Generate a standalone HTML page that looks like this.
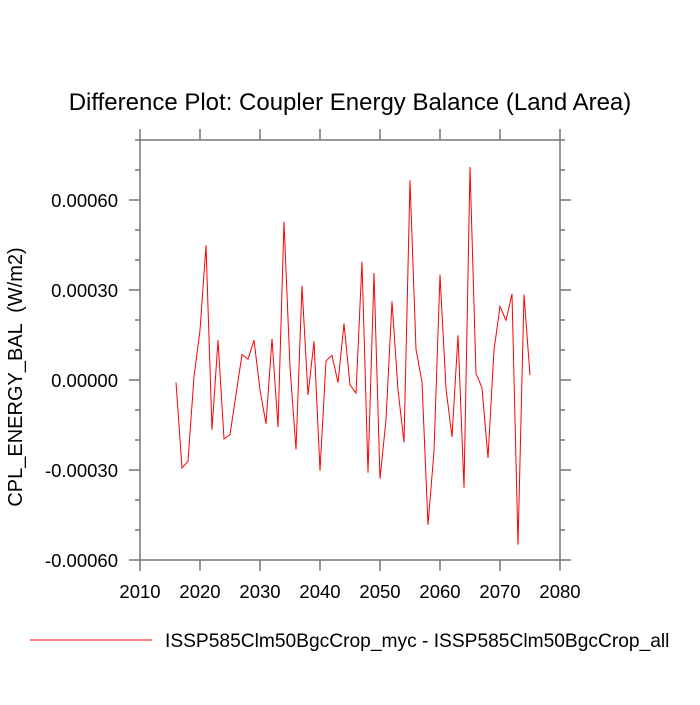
<!DOCTYPE html>
<html><head><meta charset="utf-8"><style>
body{margin:0;background:#fff}
svg text{font-family:"Liberation Sans",sans-serif;fill:#000}
</style></head><body>
<svg id="chart" width="700" height="700" xmlns="http://www.w3.org/2000/svg">
<text x="350" y="110" font-size="24" text-anchor="middle">Difference Plot: Coupler Energy Balance (Land Area)</text>
<text transform="translate(22,377) rotate(-90)" font-size="20" text-anchor="middle" style="white-space:pre">CPL_ENERGY_BAL  (W/m2)</text>
<g id="axes"></g>
<g id="series"></g>
<line x1="30" y1="640" x2="152" y2="640" stroke="#f00" stroke-width="1"/>
<text x="165" y="647" font-size="19.2">ISSP585Clm50BgcCrop_myc - ISSP585Clm50BgcCrop_all</text>
</svg>
<script>
const years=[2016,2017,2018,2019,2020,2021,2022,2023,2024,2025,2026,2027,2028,2029,2030,2031,2032,2033,2034,2035,2036,2037,2038,2039,2040,2041,2042,2043,2044,2045,2046,2047,2048,2049,2050,2051,2052,2053,2054,2055,2056,2057,2058,2059,2060,2061,2062,2063,2064,2065,2066,2067,2068,2069,2070,2071,2072,2073,2074,2075];
const values=[-0.000008,-0.000293,-0.000271,0.000011,0.000166,0.000449,-0.000166,0.000133,-0.000196,-0.000182,-0.000048,0.000085,0.000069,0.000133,-0.000033,-0.000146,0.000137,-0.000157,0.000528,0.000044,-0.000232,0.000314,-0.00005,0.000129,-0.000302,0.000064,0.000082,-0.000009,0.000188,-0.000016,-0.000044,0.000394,-0.000309,0.000357,-0.000329,-0.000133,0.000262,-0.000033,-0.000208,0.000666,0.000102,-0.000006,-0.000483,-0.000238,0.000351,-0.000028,-0.00019,0.000149,-0.000359,0.00071,0.000022,-0.000026,-0.00026,0.0001,0.000245,0.000199,0.000287,-0.000549,0.000285,0.000016];
const xTicks=[2010,2020,2030,2040,2050,2060,2070,2080];
const yTicks=[-0.0006,-0.0003,0,0.0003,0.0006];
const yTickLabels=["-0.00060","-0.00030","0.00000","0.00030","0.00060"];
const L=140,R=560,T=140,B=560,X0=2010,X1=2080,Y0=-0.0006,Y1=0.0008;
const xs=v=>L+(v-X0)/(X1-X0)*(R-L);
const ys=v=>B-(v-Y0)/(Y1-Y0)*(B-T);
const NS="http://www.w3.org/2000/svg";
const ax=document.getElementById('axes');
function mk(t,a,p){const e=document.createElementNS(NS,t);for(const k in a)e.setAttribute(k,a[k]);(p||ax).appendChild(e);return e;}
const frame=mk('rect',{x:L,y:T,width:R-L,height:B-T,fill:'none',stroke:'#777','stroke-width':1.5});


xTicks.forEach(v=>{const x=xs(v);
 const t1=mk('line',{x1:x,y1:B,x2:x,y2:B+11,stroke:'#777','stroke-width':1.5});
 
 
 const t2=mk('line',{x1:x,y1:T,x2:x,y2:T-11,stroke:'#777','stroke-width':1.5});
 
 
 const lb=mk('text',{x:x,y:B+38,'font-size':18.5,'text-anchor':'middle'});lb.textContent=v;
 
 
});
for(let i=-6;i<=8;i++){const v=i*0.0001,y=ys(v),major=(i%3===0);const len=major?11:5;
 [[L,L-len],[R,R+len]].forEach(p=>{const t=mk('line',{x1:p[0],y1:y,x2:p[1],y2:y,stroke:'#777','stroke-width':1.5});
 
 });
}
yTicks.forEach((v,i)=>{const lb=mk('text',{x:L-22,y:ys(v)+7,'font-size':18.5,'text-anchor':'end'});lb.textContent=yTickLabels[i];
 
 });
const pts=years.map((y,i)=>xs(y).toFixed(1)+','+ys(values[i]).toFixed(1)).join(' ');
const line=mk('polyline',{points:pts,fill:'none',stroke:'#f00','stroke-width':1},document.getElementById('series'));


</script>
</body></html>
